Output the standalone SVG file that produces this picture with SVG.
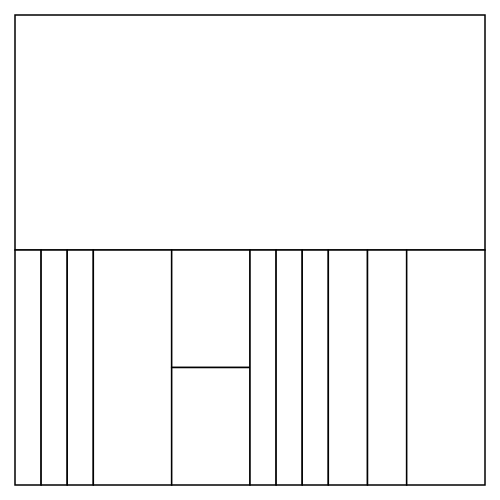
<svg xmlns="http://www.w3.org/2000/svg" width="500" height="500" viewBox="0 0 500 500">
<style>.c{fill:#fff;stroke:#000;stroke-width:1.5}</style>
<rect width="500" height="500" fill="#fff"/>
<g id="cells">
<rect class="c" x="15" y="15" width="470" height="235"/>
<rect class="c" x="15" y="250" width="26.11" height="235"/>
<rect class="c" x="41.11" y="250" width="26.11" height="235"/>
<rect class="c" x="67.22" y="250" width="26.11" height="235"/>
<rect class="c" x="93.33" y="250" width="78.34" height="235"/>
<rect class="c" x="171.67" y="250" width="78.33" height="117.5"/>
<rect class="c" x="171.67" y="367.5" width="78.33" height="117.5"/>
<rect class="c" x="250" y="250" width="26.11" height="235"/>
<rect class="c" x="276.11" y="250" width="26.11" height="235"/>
<rect class="c" x="302.22" y="250" width="26.11" height="235"/>
<rect class="c" x="328.33" y="250" width="39.17" height="235"/>
<rect class="c" x="367.5" y="250" width="39.17" height="235"/>
<rect class="c" x="406.67" y="250" width="78.33" height="235"/>
</g>
</svg>
